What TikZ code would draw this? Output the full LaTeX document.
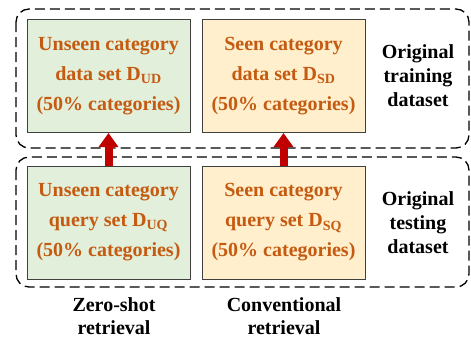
\documentclass[tikz,border=0pt]{standalone}
\usepackage{fontspec}
\setmainfont{Liberation Serif}
\usetikzlibrary{arrows.meta}
\definecolor{boxgreen}{HTML}{E2EFDA}
\definecolor{boxorange}{HTML}{FFEFCC}
\definecolor{txtorange}{HTML}{C55A11}
\definecolor{boxedge}{HTML}{404040}
\definecolor{arrred}{HTML}{C00000}
\tikzset{
  setbox/.style={draw=boxedge, line width=1pt, minimum width=163pt, minimum height=113pt,
    inner sep=0pt, align=center, text=txtorange, font=\fontsize{20}{30}\selectfont\bfseries},
  greenbox/.style={setbox, fill=boxgreen},
  orangebox/.style={setbox, fill=boxorange},
  groupbox/.style={draw=black, line width=1.3pt, dash pattern=on 10pt off 5pt, rounded corners=13pt},
  sidelabel/.style={align=center, font=\fontsize{20}{24}\selectfont\bfseries},
  bottomlabel/.style={align=center, font=\fontsize{20}{22.5}\selectfont\bfseries},
  uparrow/.style={draw=arrred, line width=8pt, -{Triangle[width=19pt,length=14pt]}, shorten >=0pt}
}
\begin{document}
\begin{tikzpicture}[x=1pt,y=-1pt]
\useasboundingbox (0,0) rectangle (471,341);
\draw[groupbox] (16,9) rectangle (469,148);
\draw[groupbox] (16,157) rectangle (469,287);
\node[greenbox] (ud) at (108.5,76) {Unseen category\\data set D\textsubscript{UD}\\(50\% categories)};
\node[orangebox] (sd) at (283.5,76) {Seen category\\data set D\textsubscript{SD}\\(50\% categories)};
\node[greenbox] (uq) at (108.5,222.5) {Unseen category\\query set D\textsubscript{UQ}\\(50\% categories)};
\node[orangebox] (sq) at (283.5,222.5) {Seen category\\query set D\textsubscript{SQ}\\(50\% categories)};
\draw[uparrow] (uq.north) -- (ud.south);
\draw[uparrow] (sq.north) -- (sd.south);
\node[sidelabel] (train) at (418,76) {Original\\training\\dataset};
\node[sidelabel] (test) at (418,223) {Original\\testing\\dataset};
\node[bottomlabel] (zs) at (114,316) {Zero-shot\\retrieval};
\node[bottomlabel] (cv) at (284,316) {Conventional\\retrieval};
\end{tikzpicture}
\end{document}
